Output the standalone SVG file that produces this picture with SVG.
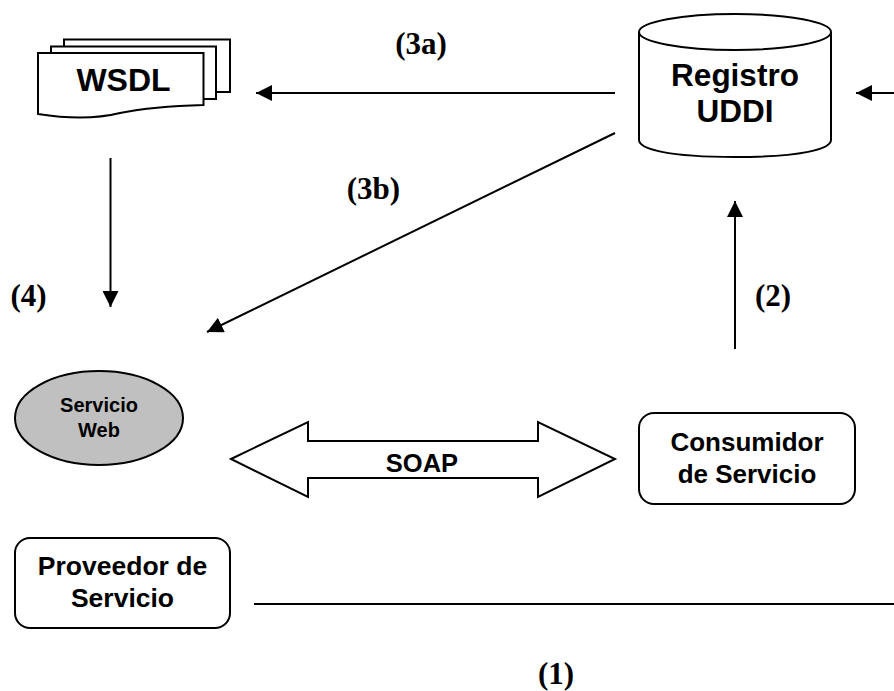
<svg xmlns="http://www.w3.org/2000/svg" width="894" height="691" viewBox="0 0 894 691">
<style>
.s{fill:#fff;stroke:#000;stroke-width:2}
.l{fill:none;stroke:#000;stroke-width:2}
.t{font-family:"Liberation Sans",Arial,sans-serif;font-weight:bold;text-anchor:middle;fill:#000}
.n{font-family:"Liberation Serif","Times New Roman",serif;font-weight:bold;font-size:31px;text-anchor:middle;fill:#000}
</style>
<defs>
<marker id="a" markerUnits="userSpaceOnUse" markerWidth="18" markerHeight="16" refX="16" refY="8" orient="auto"><path d="M0 0L16 8L0 16z" fill="#000"/></marker>
</defs>
<rect width="894" height="691" fill="#fff"/>
<g id="connectors">
<path class="l" d="M615 93H256" marker-end="url(#a)"/>
<path class="l" d="M615 133L207 332" marker-end="url(#a)"/>
<path class="l" d="M110.500 158V307" marker-end="url(#a)"/>
<path class="l" d="M735 349V201" marker-end="url(#a)"/>
<path class="l" d="M894 93H856" marker-end="url(#a)"/>
<path class="l" d="M254 604H894"/>
</g>
<g id="wsdl">
<path class="s" d="M64 39.500H230V92H64z"/>
<path class="s" d="M51 46.500H216V99H51z"/>
<path class="s" d="M38 53H203.500V105C170 106 145 108 120 113C100 118 70 119 38 114z"/>
<text class="t" x="123.500" y="91" font-size="32">WSDL</text>
</g>
<g id="registro">
<path class="s" d="M639 32V140C639 149 668 157 735 157C802 157 831 149 831 140V32"/>
<ellipse class="s" cx="735" cy="32" rx="96" ry="18"/>
<text class="t" x="735" y="86" font-size="31.500">Registro</text>
<text class="t" x="735" y="122" font-size="31.500">UDDI</text>
</g>
<g id="servicio">
<ellipse cx="99" cy="418" rx="84" ry="47" fill="#c0c0c0" stroke="#000" stroke-width="2"/>
<text class="t" x="99" y="412" font-size="20">Servicio</text>
<text class="t" x="99" y="437" font-size="20">Web</text>
</g>
<g id="soap">
<path class="s" d="M231 459L308 422V441H538V422L615 459L538 497V478H308V497z"/>
<text class="t" x="422" y="472" font-size="25.500">SOAP</text>
</g>
<g id="consumidor">
<rect class="s" x="639" y="413" width="216" height="91" rx="15"/>
<text class="t" x="747" y="451" font-size="26">Consumidor</text>
<text class="t" x="747" y="483" font-size="26">de Servicio</text>
</g>
<g id="proveedor">
<rect class="s" x="15" y="538" width="215" height="90" rx="15"/>
<text class="t" x="122.500" y="575" font-size="26.500">Proveedor de</text>
<text class="t" x="122.500" y="607" font-size="26.500">Servicio</text>
</g>
<g id="labels">
<text class="n" x="421" y="54">(3a)</text>
<text class="n" x="373.500" y="199">(3b)</text>
<text class="n" x="28.500" y="306">(4)</text>
<text class="n" x="773" y="306">(2)</text>
<text class="n" x="556" y="684">(1)</text>
</g>
</svg>
